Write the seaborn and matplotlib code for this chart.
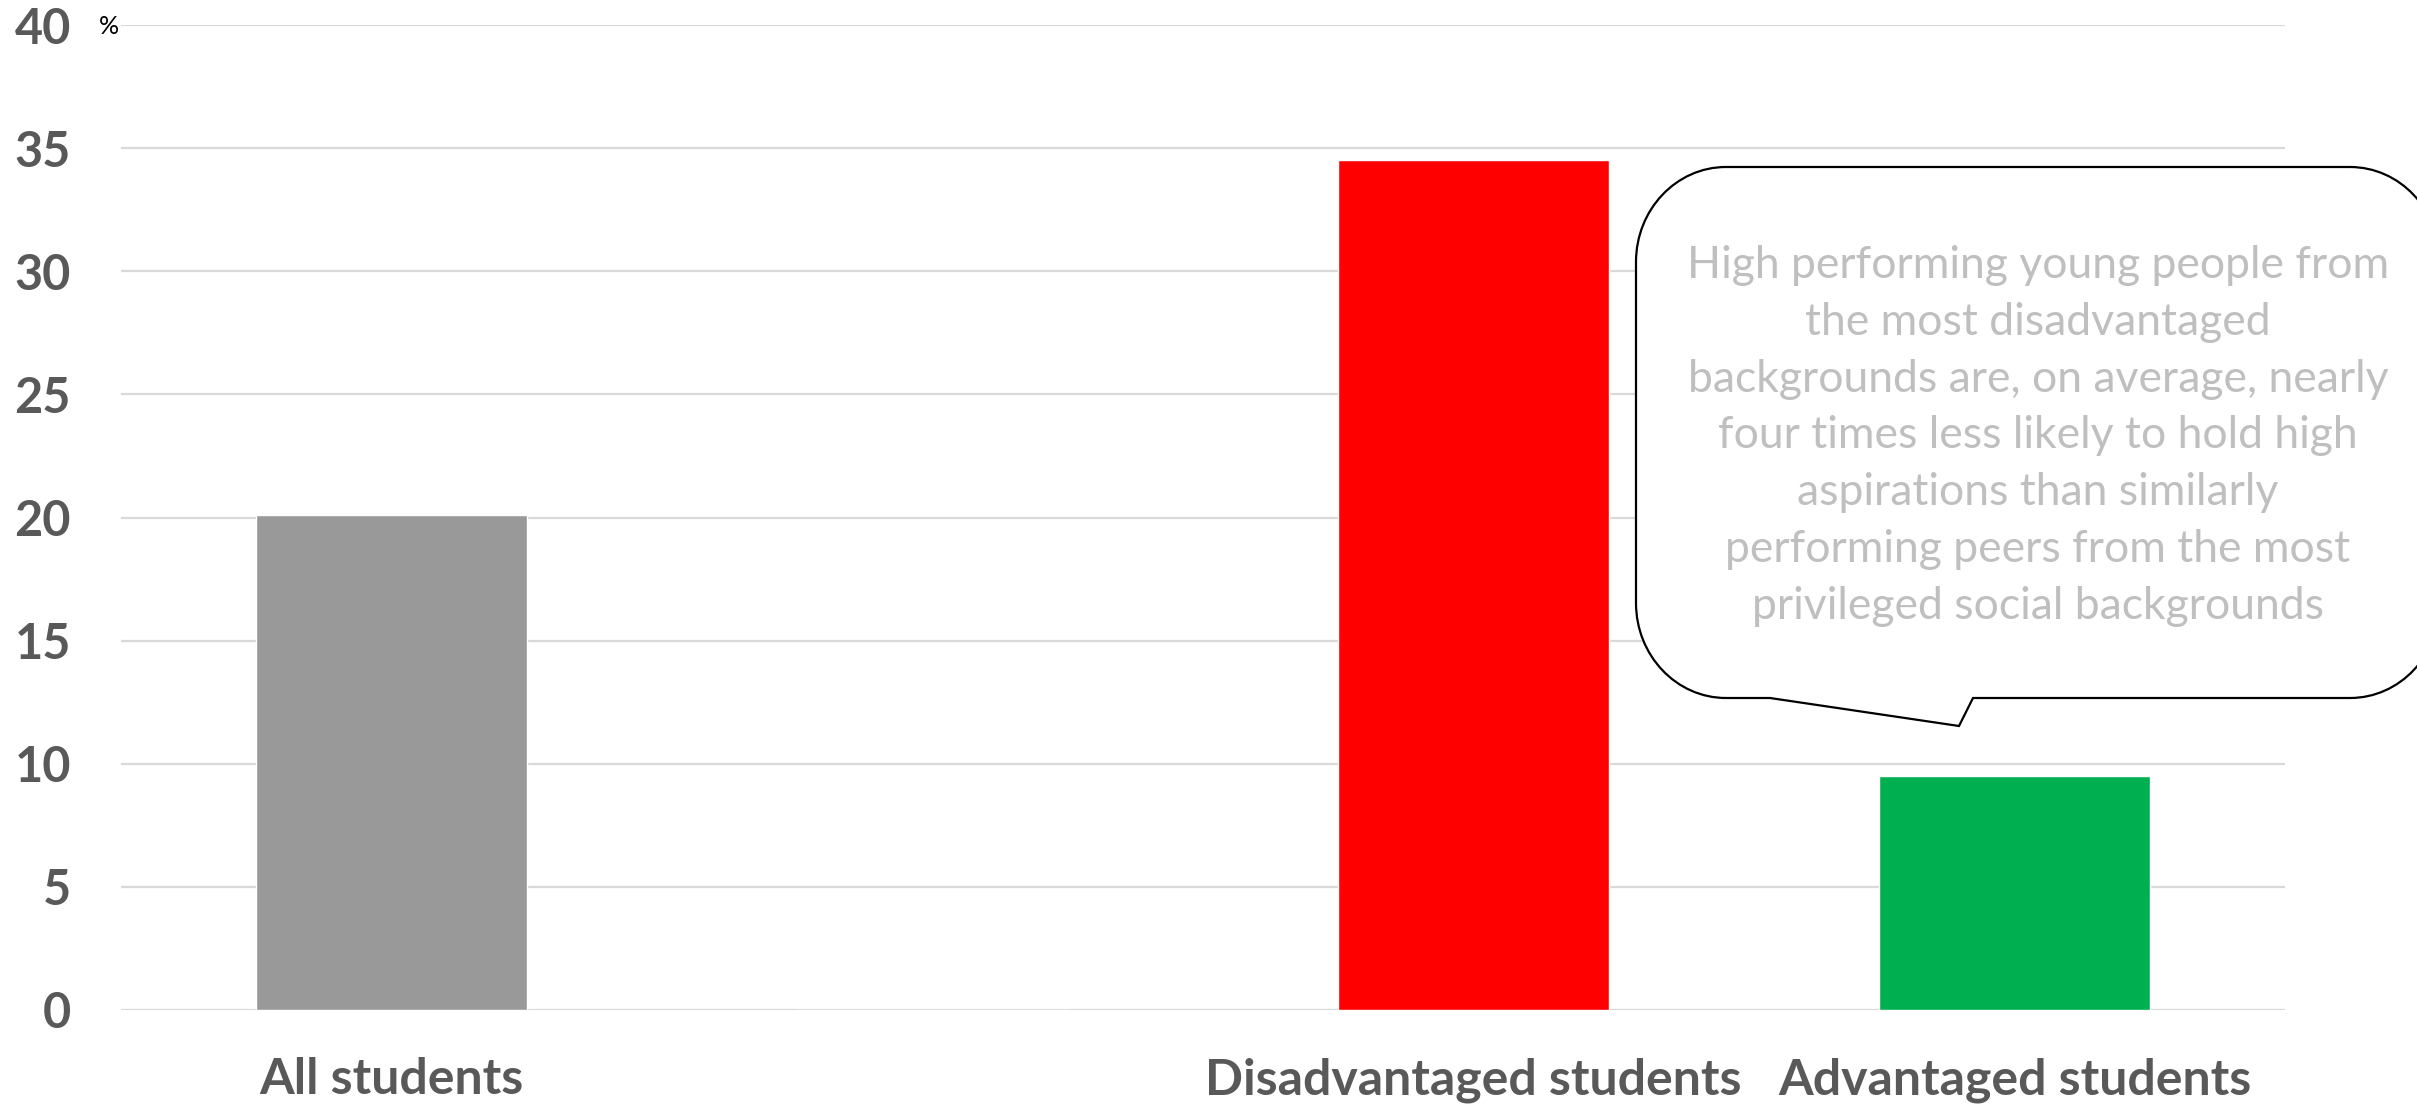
import numpy as np
import pandas as pd
import matplotlib
matplotlib.use("Agg")
import matplotlib.pyplot as plt
from matplotlib.path import Path
from matplotlib.patches import PathPatch
import seaborn as sns

# ---- data ----
categories = ["All students", " ", "Disadvantaged students", "Advantaged students"]
values = [20.1, 0.0, 34.5, 9.5]
bar_colors = ["#999999", "#FFFFFF", "#FF0000", "#00B050"]
y_ticks = [0, 5, 10, 15, 20, 25, 30, 35, 40]
unit_label = "%"
callout_text = ("High performing young people from\nthe most disadvantaged\n"
                "backgrounds are, on average, nearly\nfour times less likely to hold high\n"
                "aspirations than similarly\nperforming peers from the most\n"
                "privileged social backgrounds")

sns.set_theme(style="white")
plt.rcParams['font.family'] = ['Lato', 'DejaVu Sans']

W, H = 2417, 1104
fig = plt.figure(figsize=(W / 100, H / 100), dpi=100)
ax = fig.add_axes([121 / W, 1 - 1010 / H, (2285 - 121) / W, (1010 - 25) / H])

df = pd.DataFrame({"cat": categories, "val": values})
sns.barplot(data=df, x="cat", y="val", hue="cat", order=categories,
            palette=dict(zip(categories, bar_colors)), width=0.5,
            legend=False, ax=ax, zorder=3, saturation=1)

ax.set_ylim(0, 40)
ax.set_xlim(-0.5, len(categories) - 0.5)
ax.set_yticks(y_ticks)
ax.set_yticklabels([str(t) for t in y_ticks])
ax.yaxis.grid(True, color="#D9D9D9", linewidth=1.6, zorder=0)
ax.set_axisbelow(True)
for s in ax.spines.values():
    s.set_visible(False)
ax.set_xlabel("")
ax.set_ylabel("")
ax.tick_params(axis="y", length=0, pad=36, labelsize=35, labelcolor="#595959")
ax.tick_params(axis="x", length=0, pad=34, labelsize=36, labelcolor="#595959")
for lab in ax.get_yticklabels() + ax.get_xticklabels():
    lab.set_fontweight("bold")

fig.text(109 / W, 1 - 27 / H, unit_label, fontsize=18, color="black",
         ha="center", va="center")

# ---- speech bubble ----
L, R, T, B = 1636, 2440, 167, 698
rx, ry = 90, 95
k = 0.5523
tail = [(1973, B), (1959, 726), (1770, B)]
verts = [(L + rx, T), (R - rx, T),
         (R - rx + k * rx, T), (R, T + ry - k * ry), (R, T + ry),
         (R, B - ry),
         (R, B - ry + k * ry), (R - rx + k * rx, B), (R - rx, B),
         tail[0], tail[1], tail[2],
         (L + rx, B),
         (L + rx - k * rx, B), (L, B - ry + k * ry), (L, B - ry),
         (L, T + ry),
         (L, T + ry - k * ry), (L + rx - k * rx, T), (L + rx, T),
         (L + rx, T)]
codes = [Path.MOVETO, Path.LINETO,
         Path.CURVE4, Path.CURVE4, Path.CURVE4,
         Path.LINETO,
         Path.CURVE4, Path.CURVE4, Path.CURVE4,
         Path.LINETO, Path.LINETO, Path.LINETO,
         Path.LINETO,
         Path.CURVE4, Path.CURVE4, Path.CURVE4,
         Path.LINETO,
         Path.CURVE4, Path.CURVE4, Path.CURVE4,
         Path.CLOSEPOLY]
verts_f = [(x / W, 1 - y / H) for x, y in verts]
patch = PathPatch(Path(verts_f, codes), facecolor="white", edgecolor="black",
                  linewidth=1.6, transform=fig.transFigure, zorder=10)
fig.add_artist(patch)

fig.text(2038 / W, 1 - 436 / H, callout_text, fontsize=32, color="#BFBFBF",
         ha="center", va="center", multialignment="center", linespacing=1.48,
         zorder=11)

fig.savefig("out.png", dpi=100)
